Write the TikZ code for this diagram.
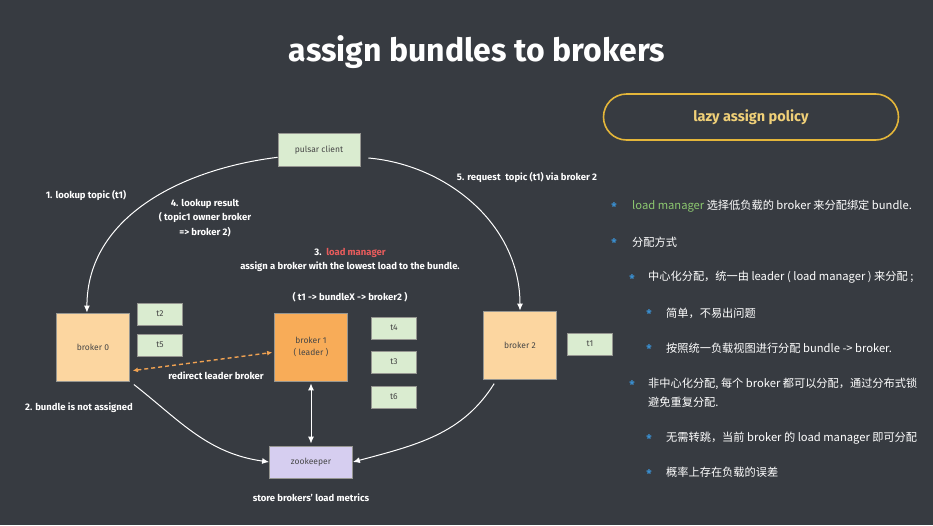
\documentclass[tikz,border=0pt]{standalone}
\usepackage{fontspec}
\setmainfont{Fira Sans}
\newfontfamily\cjk{Noto Sans CJK SC}
\usetikzlibrary{arrows.meta}
\definecolor{board}{RGB}{55,59,65}
\definecolor{boxline}{RGB}{150,150,145}
\definecolor{boxtext}{RGB}{70,70,70}
\definecolor{topicfill}{RGB}{218,236,208}
\definecolor{brokerfill}{RGB}{252,214,160}
\definecolor{leaderfill}{RGB}{248,172,88}
\definecolor{zkfill}{RGB}{214,206,240}
\definecolor{lmred}{RGB}{232,92,92}
\definecolor{lmgreen}{RGB}{140,200,112}
\definecolor{gold}{RGB}{228,182,58}
\definecolor{goldtext}{RGB}{240,208,120}
\definecolor{bulletblue}{RGB}{58,143,208}
\definecolor{redirect}{RGB}{240,162,82}
\begin{document}
\begin{tikzpicture}[x=1pt,y=-1pt,>={Latex[length=7pt,width=6pt]}]
        \tikzstyle{box}=[draw=boxline,line width=0.8pt,inner sep=0pt,text=boxtext,align=center,font=\fontsize{8.5}{12}\selectfont]
        \tikzstyle{broker}=[box,fill=brokerfill,minimum width=73pt,minimum height=68pt]
        \tikzstyle{topic}=[box,fill=topicfill,minimum width=45pt,minimum height=22pt]
        \tikzstyle{label}=[text=white,align=center,font=\bfseries\fontsize{9.5}{14.5}\selectfont]
        \tikzstyle{edge}=[draw=white,line width=1pt,->]
        \tikzstyle{item}=[anchor=west,inner sep=0pt,text=white,font=\cjk\fontsize{11.2}{17}\selectfont]
        \tikzstyle{bullet}=[inner sep=0pt,text=bulletblue,font=\bfseries\fontsize{12}{12}\selectfont]
        \useasboundingbox (0,0) rectangle (933,525);
        \fill[board] (0,0) rectangle (933,525);
        \node[text=white,font=\bfseries\fontsize{32}{36}\selectfont] (title) at (477,52) {assign bundles to brokers};
       \begin{scope}
         \node [box,fill=topicfill,minimum width=82pt,minimum height=33pt] (pc) at (319,150) {pulsar client};
         \node [broker] (b0) at (93,347) {broker 0};
         \node [broker,fill=leaderfill] (b1) at (311,347) {broker 1\\( leader )};
         \node [broker] (b2) at (520,345) {broker 2};
         \node [box,fill=zkfill,minimum width=83pt,minimum height=32pt] (zk) at (311,462) {zookeeper};
         \node [topic] (t2) at (160,314) {t2};
         \node [topic] (t5) at (160,345) {t5};
         \node [topic] (t4) at (394,328) {t4};
         \node [topic] (t3) at (394,362) {t3};
         \node [topic] (t6) at (394,397) {t6};
         \node [topic] (t1) at (590,344) {t1};
         \path[edge] (pc.190) to[out=187,in=90] (b0.100);
         \path[edge,shorten <=8pt] (pc.-10) to[out=-5,in=90] (b2.north);
         \path[edge,shorten <=5pt] (b0.south east) to[out=-38,in=172] (zk.west);
         \path[edge,shorten <=5pt] (b2.236) to[out=-122,in=15] (zk.east);
         \path[edge,<->,shorten <=2pt,shorten >=2pt] (b1.south) -- (zk.north);
         \path[draw=redirect,line width=1.4pt,dash pattern=on 4pt off 3pt,{Latex[length=5pt,width=5pt]}-{Latex[length=5pt,width=5pt]},shorten <=3pt,shorten >=2pt] (b0.-33) -- (b1.188);
         \node [label] (l1) at (86,195) {1. lookup topic (t1)};
         \node [label] (l4) at (205,218) {4. lookup result\\( topic1 owner broker\\=> broker 2)};
         \node [label] (l3) at (350,260) {3.\enspace{\color{lmred}load manager}\\assign a broker with the lowest load to the bundle.};
         \node [label] (map) at (350,297) {( t1 -> bundleX -> broker2 )};
         \node [label] (l5) at (527,177) {5. request\enspace topic (t1) via broker 2};
         \node [label] (l2) at (79,408) {2. bundle is not assigned};
         \node [label] (rd) at (216,376) {redirect leader broker};
         \node [label] (zl) at (311,498) {store brokers' load metrics};
        \end{scope}
       \begin{scope}
         \node [draw=gold,line width=1.6pt,rounded corners=23pt,minimum width=295pt,minimum height=46pt,text=goldtext,font=\bfseries\fontsize{14.5}{16}\selectfont] (policy) at (751,117) {lazy assign policy};
         \node [bullet] (s1) at (614,207) {*};
         \node [item] (i1) at (632,206) {{\color{lmgreen}load manager} 选择低负载的 broker 来分配绑定 bundle.};
         \node [bullet] (s2) at (614,243) {*};
         \node [item] (i2) at (632,242) {分配方式};
         \node [bullet] (s3) at (632,279) {*};
         \node [item] (i3) at (648,277) {中心化分配，统一由 leader ( load manager ) 来分配 ;};
         \node [bullet] (s4) at (649,314) {*};
         \node [item] (i4) at (666,313) {简单，不易出问题};
         \node [bullet] (s5) at (649,349) {*};
         \node [item] (i5) at (666,348) {按照统一负载视图进行分配 bundle -> broker.};
         \node [bullet] (s6) at (632,385) {*};
         \node [item] (i6) at (648,384) {非中心化分配, 每个 broker 都可以分配，通过分布式锁};
         \node [item] (i6b) at (648,402) {避免重复分配.};
         \node [bullet] (s7) at (649,439) {*};
         \node [item] (i7) at (666,438) {无需转跳，当前 broker 的 load manager 即可分配};
         \node [bullet] (s8) at (649,474) {*};
         \node [item] (i8) at (666,472) {概率上存在负载的误差};
        \end{scope}
      \end{tikzpicture}
\end{document}
